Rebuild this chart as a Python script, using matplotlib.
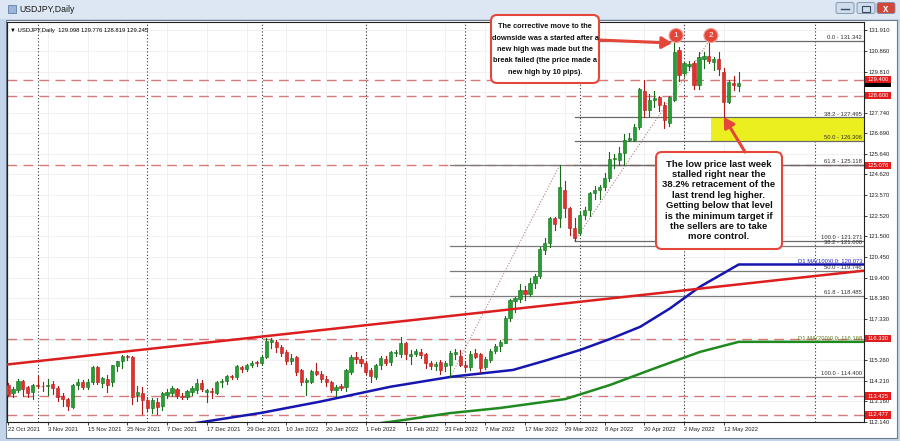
import matplotlib
matplotlib.use("Agg")
import matplotlib.pyplot as plt
from matplotlib.patches import Rectangle, FancyBboxPatch, FancyArrowPatch, Circle
from matplotlib.transforms import blended_transform_factory

plt.rcParams['font.family'] = ['Liberation Sans', 'DejaVu Sans']

# daily bars, 22 Oct 2021 .. 17 May 2022 (weekdays)
opens = [114.00, 113.58, 113.75, 114.20, 113.88, 113.65, 114.00, 113.95, 113.92, 114.05,
         113.82, 113.45, 113.30, 112.90, 114.00, 114.16, 113.90, 114.16, 114.90, 114.11,
         114.30, 114.16, 114.95, 115.20, 115.45, 115.39, 113.50, 113.57, 113.23, 112.83,
         113.15, 112.93, 113.50, 113.60, 113.80, 113.45, 113.38, 113.62, 113.74, 114.10,
         113.65, 113.70, 113.60, 114.12, 114.18, 114.45, 114.38, 114.90, 114.82, 115.00,
         115.12, 115.10, 115.40, 116.18, 116.17, 115.92, 115.67, 115.22, 115.40, 114.75,
         114.15, 114.16, 114.70, 114.55, 114.30, 114.16, 113.75, 113.92, 113.90, 114.66,
         115.40, 115.30, 115.10, 114.75, 114.41, 115.00, 115.30, 115.17, 115.60, 115.55,
         116.10, 115.45, 115.55, 115.68, 115.55, 115.10, 114.95, 115.17, 114.95, 115.00,
         115.55, 115.45, 115.00, 114.90, 115.62, 115.55, 114.90, 115.25, 115.70, 115.95,
         116.12, 117.35, 118.25, 118.32, 118.78, 118.60, 119.14, 119.49, 120.80, 121.15,
         122.40, 122.40, 123.83, 122.90, 121.90, 121.65, 122.57, 122.82, 123.67, 123.85,
         124.00, 124.42, 125.40, 125.35, 125.72, 126.36, 126.36, 127.00, 128.85, 127.87,
         128.40, 128.51, 128.12, 127.20, 128.38, 130.90, 129.72, 130.10, 130.23, 129.13,
         130.45, 130.60, 130.30, 130.43, 129.80, 128.29, 129.25, 129.098]
highs = [114.10, 113.90, 114.30, 114.25, 113.95, 114.05, 114.45, 114.15, 114.30, 114.20,
         113.95, 113.60, 113.35, 114.05, 114.30, 114.25, 114.30, 114.97, 114.95, 114.40,
         114.50, 115.00, 115.20, 115.52, 115.50, 115.45, 113.95, 113.90, 113.40, 113.35,
         113.35, 113.65, 113.80, 113.95, 113.85, 113.60, 113.75, 113.95, 114.30, 114.25,
         113.80, 113.85, 114.20, 114.30, 114.50, 114.50, 115.00, 114.95, 115.05, 115.20,
         115.20, 115.50, 116.35, 116.35, 116.25, 116.00, 115.75, 115.55, 115.45, 114.80,
         114.35, 114.75, 115.08, 114.70, 114.45, 114.20, 114.00, 114.05, 114.80, 115.50,
         115.65, 115.45, 115.20, 114.85, 115.05, 115.45, 115.45, 115.70, 115.75, 116.40,
         116.15, 115.75, 115.80, 115.80, 115.60, 115.20, 115.15, 115.25, 115.20, 115.70,
         115.80, 115.75, 115.20, 115.70, 115.80, 115.60, 115.40, 115.80, 116.05, 116.25,
         117.45, 118.35, 118.45, 119.10, 119.00, 119.40, 119.60, 120.95, 121.40, 122.45,
         122.45, 125.09, 124.30, 123.00, 122.40, 122.75, 122.95, 123.75, 124.05, 124.10,
         124.70, 125.75, 125.65, 126.00, 126.65, 126.70, 127.15, 129.00, 129.40, 128.70,
         128.85, 128.60, 128.30, 128.60, 131.25, 131.05, 130.30, 130.35, 130.35, 130.80,
         130.80, 131.342, 130.55, 130.80, 130.00, 129.40, 129.60, 129.776]
lows = [113.42, 113.40, 113.65, 113.45, 113.40, 113.30, 113.85, 113.70, 113.50, 113.55,
        113.20, 112.95, 112.72, 112.85, 113.80, 113.80, 113.80, 114.05, 114.05, 113.90,
        113.65, 113.95, 114.70, 114.85, 115.25, 113.05, 113.20, 112.55, 112.70, 112.60,
        112.55, 112.75, 113.35, 113.45, 113.35, 113.30, 113.30, 113.50, 113.60, 113.70,
        113.15, 113.35, 113.55, 113.90, 114.05, 114.30, 114.30, 114.65, 114.70, 114.90,
        114.95, 115.00, 115.35, 115.85, 115.65, 115.45, 115.05, 115.05, 114.50, 114.00,
        113.50, 114.10, 114.50, 114.15, 113.95, 113.65, 113.45, 113.75, 113.70, 114.55,
        115.10, 114.95, 114.55, 114.15, 114.30, 114.80, 115.00, 115.00, 115.45, 115.40,
        115.30, 115.05, 115.45, 115.35, 114.85, 114.80, 114.75, 114.55, 114.70, 114.40,
        115.30, 114.95, 114.70, 114.75, 115.35, 114.65, 114.80, 115.15, 115.60, 115.70,
        116.10, 117.20, 117.70, 118.20, 118.30, 118.50, 118.90, 119.40, 120.60, 120.95,
        121.80, 121.95, 122.45, 121.55, 121.271, 121.55, 122.35, 122.50, 123.40, 123.40,
        123.85, 124.30, 124.95, 125.10, 125.10, 126.30, 126.30, 126.90, 127.50, 127.55,
        128.00, 127.80, 126.95, 127.05, 128.35, 129.35, 129.60, 129.90, 128.95, 128.95,
        130.00, 130.25, 129.90, 129.65, 127.52, 128.25, 128.90, 128.819]
closes = [113.48, 113.80, 114.20, 113.80, 113.57, 114.00, 113.95, 113.92, 114.00, 113.82,
          113.40, 113.30, 112.93, 114.00, 114.16, 113.90, 114.15, 114.90, 114.16, 114.36,
          114.00, 115.00, 115.20, 115.45, 115.40, 113.40, 113.62, 113.23, 112.81, 113.23,
          112.90, 113.57, 113.65, 113.82, 113.45, 113.38, 113.70, 113.82, 114.11, 113.80,
          113.72, 113.62, 114.15, 114.18, 114.45, 114.40, 114.97, 114.82, 115.00, 115.12,
          115.10, 115.42, 116.20, 116.26, 115.90, 115.62, 115.22, 115.35, 114.66, 114.16,
          114.22, 114.70, 114.55, 114.30, 114.16, 113.75, 113.90, 113.85, 114.75, 115.42,
          115.28, 115.12, 114.66, 114.45, 115.00, 115.35, 115.12, 115.67, 115.65, 116.10,
          115.55, 115.55, 115.70, 115.50, 115.12, 114.93, 115.05, 114.75, 115.10, 115.60,
          115.67, 115.00, 114.90, 115.55, 115.42, 114.85, 115.30, 115.70, 115.95, 116.15,
          117.37, 118.28, 118.40, 118.78, 118.60, 119.15, 119.49, 120.84, 121.17, 122.40,
          122.10, 123.97, 122.90, 121.90, 121.40, 122.57, 122.82, 123.67, 123.85, 124.00,
          124.42, 125.40, 125.45, 125.72, 126.36, 126.45, 127.00, 128.92, 127.87, 128.38,
          128.50, 128.12, 127.35, 128.54, 130.80, 129.64, 130.23, 130.20, 129.13, 130.56,
          130.60, 130.35, 130.45, 129.93, 128.29, 129.30, 129.13, 129.245]

date_ticks = [0, 8, 16, 24, 32, 40, 48, 56, 64, 72, 80, 88, 96, 104, 112, 120, 128, 136, 144]
date_labels = ["22 Oct 2021", "3 Nov 2021", "15 Nov 2021", "25 Nov 2021", "7 Dec 2021",
               "17 Dec 2021", "29 Dec 2021", "10 Jan 2022", "20 Jan 2022", "1 Feb 2022",
               "11 Feb 2022", "23 Feb 2022", "7 Mar 2022", "17 Mar 2022", "29 Mar 2022",
               "8 Apr 2022", "20 Apr 2022", "2 May 2022", "12 May 2022"]
month_starts = [6, 28, 51, 72, 92, 115, 136, 162.4]

price_ticks = [131.910, 130.860, 129.810, 128.760, 127.740, 126.690, 125.640, 124.620,
               123.570, 122.520, 121.500, 120.450, 119.400, 118.380, 117.330, 116.280,
               115.260, 114.210, 113.160, 112.140]
hidden_ticks = [128.760, 116.280]   # covered by the price tags

hlines = [129.400, 128.600, 125.076, 116.330, 113.425, 112.477]
bid = 129.245

# fibonacci retracements: (bar, price) -> (bar, price)
fibA = (89, 114.400, 111, 125.090)
fibA_levels = [(38.2, 121.008), (50.0, 119.746), (61.8, 118.485), (100.0, 114.400)]
fibB = (114, 121.271, 141, 131.342)
fibB_levels = [(0.0, 131.342), (38.2, 127.495), (50.0, 126.306), (61.8, 125.118), (100.0, 121.271)]

trend_pts = [(0, 115.03), (167.4, 119.63)]

ma100_x = [30, 39.6, 51.1, 62.8, 76.9, 89.3, 101.6, 108.5, 115.1, 121.1, 127.2, 133.2, 139.2, 147]
ma100_y = [111.77, 112.14, 112.59, 113.15, 113.90, 114.41, 114.75, 115.25, 115.76, 116.31,
           116.93, 117.86, 118.95, 120.073]
ma200_x = [70, 79.5, 88.9, 99, 112.1, 121.1, 129.2, 139.2, 147]
ma200_y = [111.90, 112.22, 112.57, 112.83, 113.28, 113.99, 114.75, 115.66, 116.168]

W, H = 900, 441
XL = (-0.2, 172.2)
YL = (112.122, 132.314)

fig = plt.figure(figsize=(W / 100, H / 100), dpi=100)
fig.patch.set_facecolor('#c3d5ea')

# window chrome
bg = fig.add_axes([0, 0, 1, 1], zorder=0)
bg.set_xlim(0, W)
bg.set_ylim(H, 0)
bg.axis('off')
bg.add_patch(Rectangle((0, 0), W, 19, fc='#dce7f3', ec='none'))
bg.add_patch(Rectangle((6, 20), 891, 418, fc='white', ec='#6d7a88', lw=0.8))
bg.add_patch(Rectangle((8, 5), 8, 8, fc='#9bb6d6', ec='#5f7fa8', lw=0.6))
bg.text(19, 10, "USDJPY,Daily", fontsize=6.3, va='center', ha='left', color='#1a1a1a')
for x0, fc in [(836, '#cfdcec'), (857, '#cfdcec'), (877, '#d2473a')]:
    bg.add_patch(FancyBboxPatch((x0, 2.5), 18, 11, boxstyle='round,pad=0,rounding_size=2',
                                fc=fc, ec='#7b8ea8', lw=0.6))
bg.plot([841, 849], [9, 9], color='#3a4a60', lw=1)
bg.add_patch(Rectangle((862, 5.5), 8, 6, fc='none', ec='#3a4a60', lw=0.8))
bg.text(886, 8.5, "x", color='white', fontsize=7, fontweight='bold', ha='center', va='center')

ax = fig.add_axes([7 / W, 1 - 422 / H, 857 / W, 400 / H], zorder=1)
ax.set_xlim(*XL)
ax.set_ylim(*YL)
ax.set_facecolor('white')
for s in ax.spines.values():
    s.set_color('#202020')
    s.set_linewidth(0.8)

# light grid + month separators
for p in price_ticks:
    ax.axhline(p, color='#ececec', lw=0.5, zorder=0.5)
for t in date_ticks:
    ax.axvline(t, color='#ececec', lw=0.5, zorder=0.5)
for m in month_starts:
    ax.axvline(m, color='#303030', lw=0.8, ls=(0, (1, 2)), zorder=0.6)

# yellow target zone between 38.2 and 50.0
ax.add_patch(Rectangle((141.5, fibB_levels[2][1]), XL[1] - 141.5,
                       fibB_levels[1][1] - fibB_levels[2][1], fc='#ecef1f', ec='none', zorder=1))

# dashed horizontal lines
for h in hlines:
    ax.axhline(h, color='#d97878', lw=1.0, dashes=(7, 4.5), zorder=1.5)

# fibonacci level lines
for lv, p in fibA_levels:
    ax.plot([fibA[0], XL[1]], [p, p], color='#7a7a7a', lw=0.9, zorder=1.8)
    ax.text(XL[1] - 0.4, p + 0.04, f"{lv:.1f} - {p:.3f}", fontsize=4.2, ha='right', va='bottom',
            color='#303030', zorder=5)
ax.plot([fibA[0], XL[1]], [fibA[3], fibA[3]], color='#7a7a7a', lw=0.9, zorder=1.8)
for lv, p in fibB_levels:
    ax.plot([fibB[0], XL[1]], [p, p], color='#6a6a6a', lw=0.9, zorder=1.8)
    ax.text(XL[1] - 0.4, p + 0.04, f"{lv:.1f} - {p:.3f}", fontsize=4.2, ha='right', va='bottom',
            color='#303030', zorder=5)
for f in (fibA, fibB):
    ax.plot([f[0], f[2]], [f[1], f[3]], color='#b48080', lw=0.8, ls=(0, (1, 1.6)), zorder=1.9)

# moving averages, extended flat to the right edge
ax.plot(ma100_x + [XL[1]], ma100_y + [ma100_y[-1]], color='#1515b0', lw=1.8, zorder=2)
ax.plot(ma200_x + [XL[1]], ma200_y + [ma200_y[-1]], color='#1f8a1f', lw=1.8, zorder=2)
ax.text(XL[1] - 0.4, ma100_y[-1] + 0.05, f"D1 MA(100)0,0: {ma100_y[-1]:.3f}", fontsize=4.2,
        ha='right', va='bottom', color='#2020c0', zorder=5)
ax.text(XL[1] - 0.4, ma200_y[-1] + 0.05, f"D1 MA(200)0,0: {ma200_y[-1]:.3f}", fontsize=4.2,
        ha='right', va='bottom', color='#5a7a1a', zorder=5)

# candles
for i, (o, h, l, c) in enumerate(zip(opens, highs, lows, closes)):
    up = c >= o
    fc = '#22a033' if up else '#e2302b'
    ec = '#176b17' if up else '#b01818'
    ax.plot([i, i], [l, h], color=ec, lw=0.8, zorder=3)
    ax.add_patch(Rectangle((i - 0.32, min(o, c)), 0.64, max(abs(c - o), 0.03),
                           fc=fc, ec=ec, lw=0.4, zorder=3.1))

# red trend line
ax.axline(trend_pts[0], trend_pts[1], color='#dc1e1e', lw=1.8, zorder=3.5)

# axes ticks
ax.yaxis.tick_right()
ax.set_yticks(price_ticks)
ax.set_yticklabels(['' if p in hidden_ticks else f"{p:.3f}" for p in price_ticks])
ax.set_xticks(date_ticks)
ax.set_xticklabels(date_labels, ha='left')
ax.tick_params(axis='both', labelsize=4.2, length=2, width=0.6, pad=1.5, colors='#202020')

# price tags on the right axis (bid tag sits under the 129.400 tag)
bt = blended_transform_factory(ax.transAxes, ax.transData)
ax.add_patch(Rectangle((1.0015, bid - 0.19), 0.03, 0.38, transform=bt, fc='black', ec='none',
                       clip_on=False, zorder=6))
for v in hlines:
    ax.add_patch(Rectangle((1.0015, v - 0.19), 0.03, 0.38, transform=bt, fc='#e21c1c', ec='none',
                           clip_on=False, zorder=6))
    ax.text(1.004, v, f"{v:.3f}", transform=bt, color='white', fontsize=4.2, va='center',
            ha='left', clip_on=False, zorder=7)

# header
ax.text(0.004, 0.985, "\u25bc USDJPY,Daily  129.098 129.776 128.819 129.245", transform=ax.transAxes,
        fontsize=4.2, ha='left', va='top', color='black', zorder=5)

# annotation layer in pixel coordinates
top = fig.add_axes([0, 0, 1, 1], zorder=3)
top.set_xlim(0, W)
top.set_ylim(H, 0)
top.axis('off')
top.patch.set_alpha(0)


def to_px(x, y):
    return top.transData.inverted().transform(ax.transData.transform((x, y)))


red = '#e4463a'
t1 = ("The corrective move to the\ndownside was a started after a\nnew high was made but the\n"
      "break failed (the price made a\nnew high by 10 pips).")
t2 = ("The low price last week\nstalled right near the\n38.2% retracement of the\n"
      "last trend leg higher.\nGetting below that level\nis the minimum target if\n"
      "the sellers are to take\nmore control.")
top.add_patch(FancyBboxPatch((491, 15), 108, 68, boxstyle='round,pad=0,rounding_size=6',
                             fc='white', ec=red, lw=1.5))
top.text(545, 49.5, t1, fontsize=5.3, fontweight='bold', ha='center', va='center',
         linespacing=1.85, color='#111111')
top.add_patch(FancyBboxPatch((656, 152), 126, 97, boxstyle='round,pad=0,rounding_size=6',
                             fc='white', ec=red, lw=1.5))
top.text(719, 200.5, t2, fontsize=6.8, fontweight='bold', ha='center', va='center',
         linespacing=1.2, color='#111111')

tip1 = to_px(133.6, highs[134])
tip2 = to_px(144, lows[144])
for start, tip in [((599, 40), tip1), ((745, 152), tip2)]:
    top.add_patch(FancyArrowPatch(start, tuple(tip), arrowstyle='-|>,head_length=6,head_width=3.5',
                                  mutation_scale=1, color=red, lw=2.2, shrinkA=0, shrinkB=0))

for bi, lab in [(134, "1"), (141, "2")]:
    cx = to_px(bi, 130)[0] + 2
    top.add_patch(Circle((cx, 35.5), 7, fc=red, ec='#f3a097', lw=0.8))
    top.text(cx, 35.8, lab, fontsize=6, color='white', ha='center', va='center')

fig.savefig("out.png", dpi=100, facecolor=fig.get_facecolor())
